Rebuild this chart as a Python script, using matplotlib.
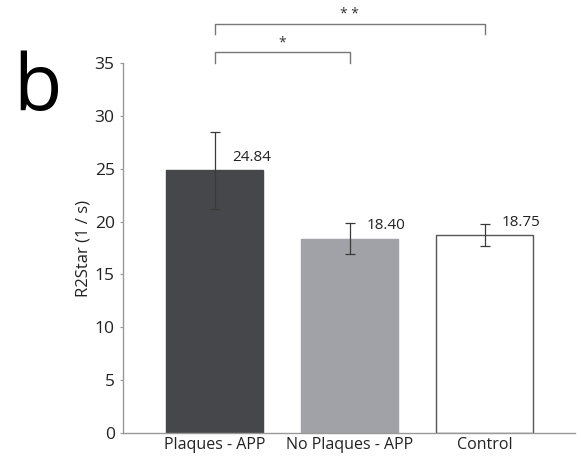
import matplotlib
matplotlib.use("Agg")
import matplotlib.pyplot as plt

groups = ["Plaques - APP", "No Plaques - APP", "Control"]
means = [24.84, 18.40, 18.75]
errors = [3.66, 1.47, 1.02]
bar_colors = ["#45474a", "#a0a2a7", "#ffffff"]
yticks = [0, 5, 10, 15, 20, 25, 30, 35]
# significance brackets: (left group, right group, height, drop, stars)
brackets = [(0, 1, 36.0, 1.0, "*"), (0, 2, 38.7, 0.95, "* *")]

plt.rcParams["font.family"] = ["Open Sans", "DejaVu Sans"]

fig = plt.figure(figsize=(5.81, 4.59), dpi=100)
ax = fig.add_axes([0.2117, 0.0566, 0.778, 0.8061])

x = list(range(len(groups)))
ax.bar(x, means, width=0.72, color=bar_colors, edgecolor=["#45474a", "#a0a2a7", "#555555"],
       linewidth=1.0, zorder=2)
ax.errorbar(x, means, yerr=errors, fmt="none", ecolor="#3a3a3a", elinewidth=0.9,
            capsize=3.5, capthick=0.9, zorder=3)

for xi, m in zip(x, means):
    ax.text(xi + 0.13, m + 0.5, f"{m:.2f}", fontsize=11, color="#222222",
            ha="left", va="bottom")

for a, b, h, d, s in brackets:
    ax.plot([a, a, b, b], [h - d, h, h, h - d], color="#777777", lw=1.0, clip_on=False)
    ax.text((a + b) / 2, h + 0.15, s, ha="center", va="bottom", fontsize=10,
            color="#333333", clip_on=False)

ax.set_xlim(-0.678, 2.67)
ax.set_ylim(0, 35)
ax.set_yticks(yticks)
ax.set_xticks(x)
ax.set_xticklabels(groups, fontsize=11.5, color="#222222")
ax.tick_params(axis="y", labelsize=12.5, colors="#222222", length=2, color="#999999", pad=4)
ax.tick_params(axis="x", length=0, pad=3)
for side in ["top", "right"]:
    ax.spines[side].set_visible(False)
for side in ["left", "bottom"]:
    ax.spines[side].set_color("#999999")
    ax.spines[side].set_linewidth(1.0)
ax.set_ylabel("R2Star (1 / s)", fontsize=12, color="#222222", labelpad=2)

fig.text(0.022, 0.76, "b", fontsize=57, color="black", ha="left", va="baseline")

fig.savefig("out.png", dpi=100)
